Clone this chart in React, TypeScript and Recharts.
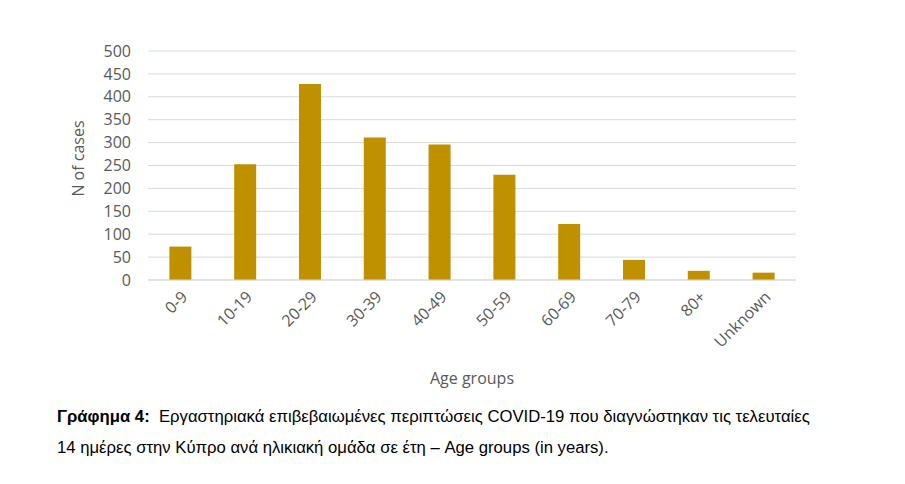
import { BarChart, Bar, XAxis, YAxis, CartesianGrid, Label } from 'recharts'

const ageGroups = ['0-9', '10-19', '20-29', '30-39', '40-49', '50-59', '60-69', '70-79', '80+', 'Unknown']
const cases = [73, 253, 428, 311, 296, 230, 122, 44, 20, 16]
const yTicks = [0, 50, 100, 150, 200, 250, 300, 350, 400, 450, 500]

const data = ageGroups.map((g, i) => ({ group: g, cases: cases[i] }))

const axisFont = '"Open Sans", sans-serif'
const gray = '#595959'

export default function App() {
  return (
    <div style={{ position: 'absolute', left: 0, top: 0, width: 905, height: 484, background: '#fff' }}>
      <BarChart width={905} height={400} data={data} margin={{ top: 51, right: 109, left: 0, bottom: 0 }} barCategoryGap="33%">
        <CartesianGrid vertical={false} stroke="#d9d9d9" />
        <XAxis
          dataKey="group"
          height={120}
          interval={0}
          axisLine={{ stroke: '#d9d9d9' }}
          tickLine={false}
          tickMargin={4}
          angle={-45}
          textAnchor="end"
          tick={{ fill: gray, fontSize: 16, fontFamily: axisFont }}
        >
          <Label value="Age groups" position="insideBottom" offset={16} style={{ fill: gray, fontSize: 16, fontFamily: axisFont }} />
        </XAxis>
        <YAxis
          width={148}
          domain={[0, 500]}
          ticks={yTicks}
          interval={0}
          axisLine={false}
          tickLine={false}
          tickMargin={11}
          tick={{ fill: gray, fontSize: 16, fontFamily: axisFont }}
        >
          <Label value="N of cases" angle={-90} position="insideLeft" offset={78} dy={-7} style={{ fill: gray, fontSize: 16, fontFamily: axisFont, textAnchor: 'middle' }} />
        </YAxis>
        <Bar dataKey="cases" fill="#bf9000" isAnimationActive={false} />
      </BarChart>
      <div style={{ position: 'absolute', left: 57, top: 401, fontFamily: '"Liberation Sans", Arial, sans-serif', fontSize: 16.7, lineHeight: '31px', color: '#000' }}>
        <div><b>Γράφημα 4:</b>&nbsp; Εργαστηριακά επιβεβαιωμένες περιπτώσεις COVID-19 που διαγνώστηκαν τις τελευταίες</div>
        <div>14 ημέρες στην Κύπρο ανά ηλικιακή ομάδα σε έτη – Age groups (in years).</div>
      </div>
    </div>
  )
}
